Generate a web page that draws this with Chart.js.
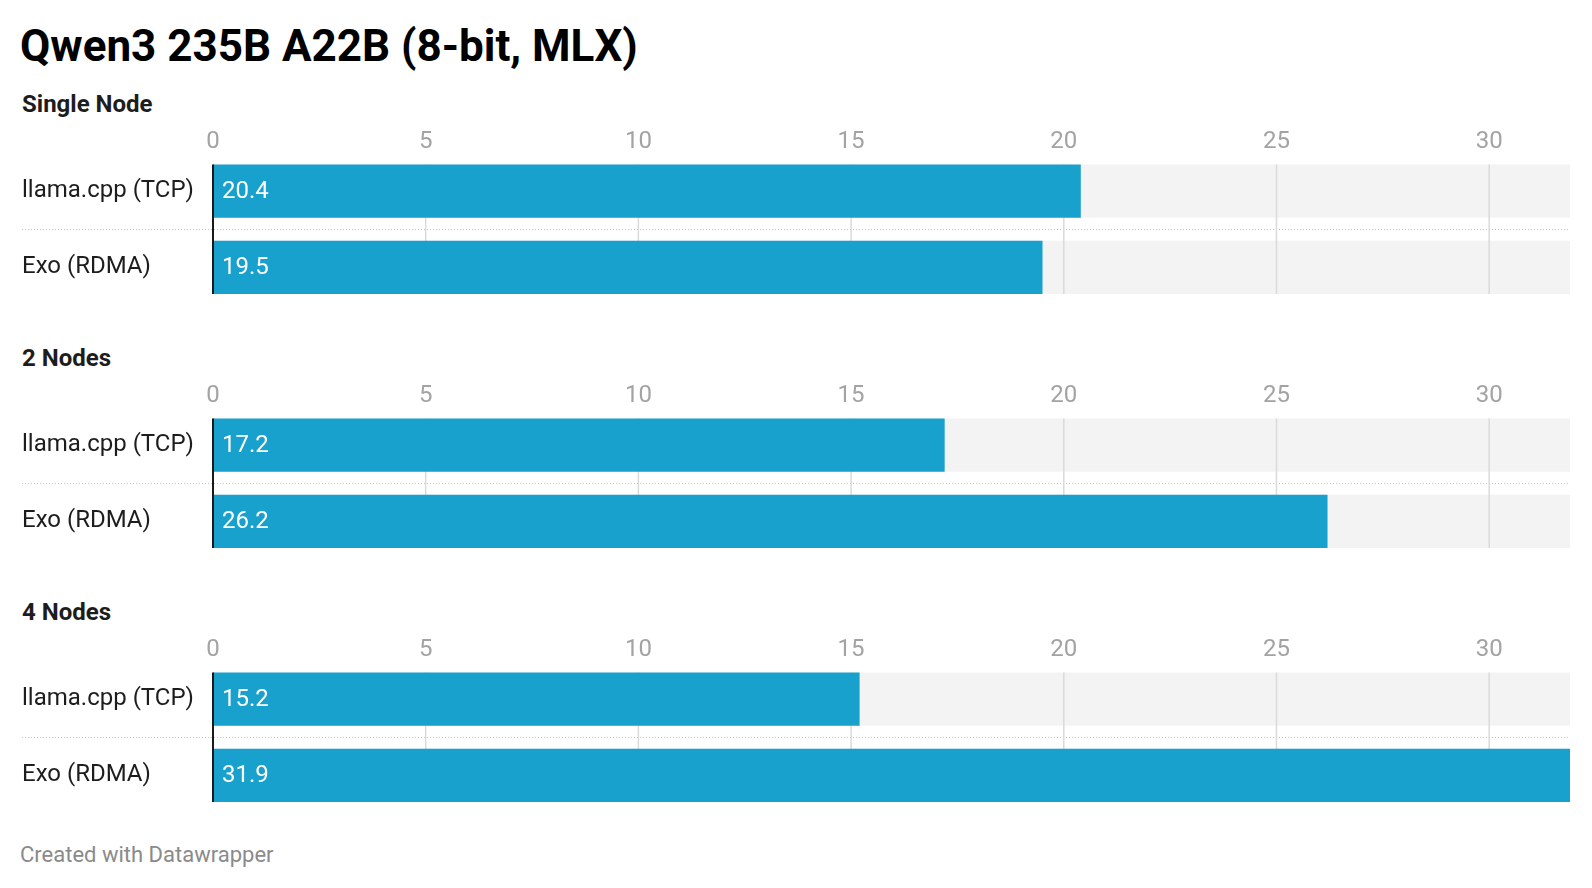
<!DOCTYPE html>
<html lang="en">
<head>
    <meta charset="UTF-8">
    <title>Qwen3 235B A22B (8-bit, MLX)</title>
    <script src="https://cdn.jsdelivr.net/npm/chart.js"></script>
    <style>
        body, html {
            margin: 0;
            padding: 0;
            width: 1592px;
            height: 888px;
            overflow: hidden;
            background: #fff;
            font-family: Roboto, Arial, sans-serif;
        }
        .title {
            position: absolute; left: 20px; top: 20px;
            font-size: 44px; font-weight: 700; color: #000; line-height: 52px;
        }
        .group {
            position: absolute; left: 22px;
            font-size: 24px; font-weight: 700; color: #1d1d1d; line-height: 28px;
        }
        .panel { position: absolute; left: 0; width: 1592px; height: 200px; }
        .footer {
            position: absolute; left: 20px; top: 842px;
            font-size: 22px; color: #8a8a8a; line-height: 26px;
        }
    </style>
</head>
<body>
    <div class="title">Qwen3 235B A22B (8-bit, MLX)</div>
    <div id="panels"></div>
    <div class="footer">Created with Datawrapper</div>

    <script>
        const groups = ['Single Node', '2 Nodes', '4 Nodes'];
        const systems = ['llama.cpp (TCP)', 'Exo (RDMA)'];
        const llamaTcp = [20.4, 17.2, 15.2];
        const exoRdma = [19.5, 26.2, 31.9];
        const tickValues = [0, 5, 10, 15, 20, 25, 30];

        const axisMax = Math.max(...llamaTcp, ...exoRdma);
        const barColor = '#18a1cd';

        // grid, row separator, zero line and value labels
        const decor = {
            id: 'decor',
            afterDatasetDraw(chart, args) {
                if (args.index !== 1) return;
                const ctx = chart.ctx, x = chart.scales.x;
                const bars = chart.getDatasetMeta(1).data;
                const top = bars[0].y - bars[0].height / 2;
                const bottom = bars[bars.length - 1].y + bars[bars.length - 1].height / 2;
                ctx.save();
                ctx.strokeStyle = '#c4c4c4';
                ctx.lineWidth = 1;
                ctx.setLineDash([1, 2]);
                for (let i = 0; i < bars.length - 1; i++) {
                    const y = Math.round((bars[i].y + bars[i + 1].y) / 2) + 0.5;
                    ctx.beginPath(); ctx.moveTo(22, y); ctx.lineTo(chart.chartArea.right, y); ctx.stroke();
                }
                ctx.setLineDash([]);
                ctx.strokeStyle = '#dadada';
                ctx.lineWidth = 1.5;
                x.ticks.forEach(t => {
                    if (t.value === 0) return;
                    const px = x.getPixelForValue(t.value);
                    ctx.beginPath(); ctx.moveTo(px, top); ctx.lineTo(px, bottom); ctx.stroke();
                });
                ctx.restore();
            },
            afterDatasetsDraw(chart) {
                const ctx = chart.ctx, x = chart.scales.x;
                const bars = chart.getDatasetMeta(0).data;
                const top = bars[0].y - bars[0].height / 2;
                const bottom = bars[bars.length - 1].y + bars[bars.length - 1].height / 2;
                ctx.save();
                ctx.fillStyle = '#fff';
                ctx.font = '24px Roboto';
                ctx.textBaseline = 'middle';
                bars.forEach((b, i) => {
                    ctx.fillText(chart.data.datasets[0].data[i].toFixed(1), b.base + 9, b.y + 1);
                });
                const x0 = x.getPixelForValue(0);
                ctx.strokeStyle = '#1a1a1a';
                ctx.lineWidth = 2;
                ctx.beginPath(); ctx.moveTo(x0, top); ctx.lineTo(x0, bottom); ctx.stroke();
                ctx.restore();
            }
        };

        const panelTop = [123, 377, 631];
        const holder = document.getElementById('panels');

        groups.forEach((g, gi) => {
            const head = document.createElement('div');
            head.className = 'group';
            head.style.top = (panelTop[gi] - 33) + 'px';
            head.textContent = g;
            holder.appendChild(head);

            const box = document.createElement('div');
            box.className = 'panel';
            box.style.top = panelTop[gi] + 'px';
            const cv = document.createElement('canvas');
            box.appendChild(cv);
            holder.appendChild(box);

            new Chart(cv, {
                type: 'bar',
                data: {
                    labels: systems,
                    datasets: [
                        { data: [llamaTcp[gi], exoRdma[gi]], backgroundColor: barColor },
                        { data: systems.map(() => axisMax), backgroundColor: '#f3f3f3' }
                    ]
                },
                plugins: [decor],
                options: {
                    indexAxis: 'y',
                    responsive: true,
                    maintainAspectRatio: false,
                    animation: false,
                    layout: { padding: { left: 22, right: 22, top: 0, bottom: 0 } },
                    datasets: { bar: { grouped: false, categoryPercentage: 1, barPercentage: 0.697 } },
                    scales: {
                        x: {
                            position: 'top', min: 0, max: axisMax,
                            grid: { display: false, drawTicks: false }, border: { display: false },
                            afterBuildTicks: s => { s.ticks = tickValues.map(v => ({ value: v })); },
                            afterFit: s => { s.height = 30; },
                            ticks: { padding: -3, maxRotation: 0, autoSkip: false, color: '#a3a3a3', font: { family: 'Roboto', size: 24 } }
                        },
                        y: {
                            grid: { display: false }, border: { display: false },
                            afterFit: s => { s.width = 191; },
                            ticks: { crossAlign: 'far', color: '#1d1d1d', font: { family: 'Roboto', size: 24 } }
                        }
                    },
                    plugins: { legend: { display: false }, tooltip: { enabled: false } }
                }
            });
        });
    </script>
</body>
</html>
